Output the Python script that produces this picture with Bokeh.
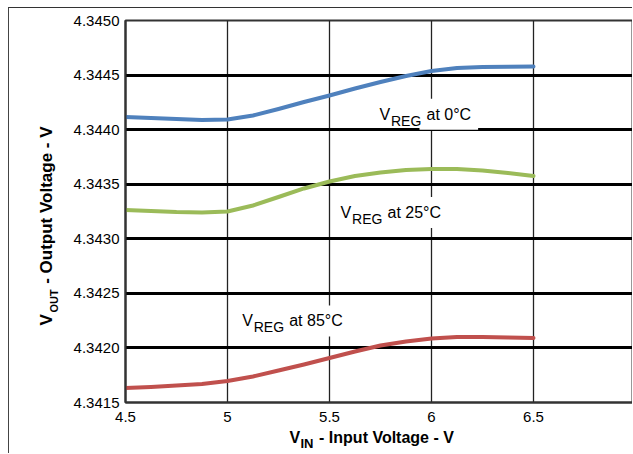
from bokeh.plotting import figure
from bokeh.models import FixedTicker, Label, Range1d, LinearAxis
from bokeh.embed import file_html
from bokeh.resources import INLINE

# ---- data ----
vin = [4.5, 4.625, 4.75, 4.875, 5.0, 5.125, 5.25, 5.375, 5.5,
       5.625, 5.75, 5.875, 6.0, 6.125, 6.25, 6.375, 6.5]
vreg_0c = [4.344116, 4.344107, 4.344098, 4.344088, 4.344093, 4.344130, 4.344189, 4.344253, 4.344313,
           4.344377, 4.344437, 4.344492, 4.344537, 4.344565, 4.344574, 4.344577, 4.344579]
vreg_25c = [4.343264, 4.343255, 4.343245, 4.343241, 4.343250, 4.343305, 4.343383, 4.343461, 4.343525,
            4.343575, 4.343607, 4.343630, 4.343639, 4.343639, 4.343626, 4.343603, 4.343575]
vreg_85c = [4.341633, 4.341642, 4.341656, 4.341670, 4.341697, 4.341738, 4.341793, 4.341848, 4.341908,
            4.341967, 4.342022, 4.342059, 4.342086, 4.342100, 4.342100, 4.342096, 4.342091]

x_ticks = [4.5, 5.0, 5.5, 6.0, 6.5, 7.0]
x_tick_labels = ["4.5", "5", "5.5", "6", "6.5", "7"]
y_ticks = [4.3415, 4.3420, 4.3425, 4.3430, 4.3435, 4.3440, 4.3445, 4.3450]
y_tick_labels = ["4.3415", "4.3420", "4.3425", "4.3430", "4.3435", "4.3440", "4.3445", "4.3450"]

series_names = ["0°C", "25°C", "85°C"]
series_values = [vreg_0c, vreg_25c, vreg_85c]
series_colors = ["#4f81bd", "#9bbb59", "#c0504d"]
label_x = [5.745, 5.554, 5.072]
label_y = [4.344141, 4.343241, 4.342247]

# axis titles, split into pieces so the subscripts can be smaller
x_title_main = ["V", "- Input Voltage - V"]
x_title_main_at = [5.3299, 5.7794]
x_title_sub = ["IN"]
x_title_sub_at = [5.3897]
y_title_main = ["V", "- Output Voltage - V"]
y_title_main_at = [4.342257, 4.343308]
y_title_sub = ["OUT"]
y_title_sub_at = [4.342431]

FONT = "Liberation Sans"

# layout (canvas pixels)
W, H = 624, 446
FR_L, FR_T, FR_B = 116, 12, 52
PX_X = 204.0                      # pixels per volt on x

p = figure(width=W, height=H,
           x_range=Range1d(x_ticks[0], x_ticks[0] + (W - FR_L) / PX_X),
           y_range=Range1d(y_ticks[0], y_ticks[-1]),
           output_backend="svg", toolbar_location=None,
           min_border_left=FR_L, min_border_top=FR_T, min_border_right=0, min_border_bottom=FR_B,
           background_fill_color="white", border_fill_color="white",
           styles={"margin-left": "8px", "margin-top": "7px",
                   "border-top": "1px solid #333", "border-left": "1px solid #444"})

p.outline_line_color = "#333333"
p.outline_line_width = 2

# grid
p.xgrid.ticker = FixedTicker(ticks=x_ticks[1:])
p.xgrid.grid_line_color = "#222222"
p.xgrid.grid_line_width = 1.3
p.ygrid.ticker = FixedTicker(ticks=y_ticks[1:-1])
p.ygrid.grid_line_color = "black"
p.ygrid.grid_line_width = 3


def plain(ax):
    ax.major_tick_line_color = None
    ax.minor_tick_line_color = None
    ax.major_tick_out = 0
    ax.major_tick_in = 0
    ax.axis_label = None
    ax.major_label_text_color = "black"
    ax.major_label_text_font = FONT


# axes
for ax in (p.xaxis[0], p.yaxis[0]):
    plain(ax)
    ax.axis_line_color = "#333333"
    ax.axis_line_width = 2
    ax.major_label_text_font_size = "15px"

p.xaxis.ticker = FixedTicker(ticks=x_ticks)
p.xaxis.major_label_overrides = dict(zip(x_ticks, x_tick_labels))
p.xaxis.major_label_standoff = 9
p.yaxis.ticker = FixedTicker(ticks=y_ticks)
p.yaxis.major_label_overrides = dict(zip(y_ticks, y_tick_labels))
p.yaxis.major_label_standoff = 6


def title_axis(where, at, texts, size, standoff):
    ax = LinearAxis(ticker=FixedTicker(ticks=at),
                    major_label_overrides=dict(zip(at, texts)))
    plain(ax)
    ax.axis_line_color = None
    ax.major_label_text_font_size = size
    ax.major_label_text_font_style = "bold"
    ax.major_label_standoff = standoff
    if where == "left":
        ax.major_label_orientation = "vertical"
    p.add_layout(ax, where)


# x title: main pieces, then the subscript pulled back up next to them
title_axis("below", x_title_main_at, x_title_main, "16px", 4)
title_axis("below", x_title_sub_at, x_title_sub, "13px", -13)
# y title: subscript first (nearer the plot), then main pieces pulled back over it
title_axis("left", y_title_sub_at, y_title_sub, "11px", 10)
title_axis("left", y_title_main_at, y_title_main, "17px", -11)

# curves
for vals, col in zip(series_values, series_colors):
    p.line(vin, vals, line_color=col, line_width=4, line_join="round", line_cap="round")

# in-plot labels  V_REG at T
for name, lx, ly in zip(series_names, label_x, label_y):
    p.add_layout(Label(x=lx, y=ly, text="at " + name, x_offset=40,
                       text_font=FONT, text_font_size="16px", text_color="black",
                       text_baseline="middle", background_fill_color="white",
                       padding=7))
    p.add_layout(Label(x=lx, y=ly, text="V", text_font=FONT, text_font_size="16px",
                       text_color="black", text_baseline="middle"))
    p.add_layout(Label(x=lx, y=ly, text="REG", x_offset=11.5, y_offset=-6.5,
                       text_font=FONT, text_font_size="14px", text_color="black",
                       text_baseline="middle"))

open("out.html", "w").write(file_html(p, INLINE))
